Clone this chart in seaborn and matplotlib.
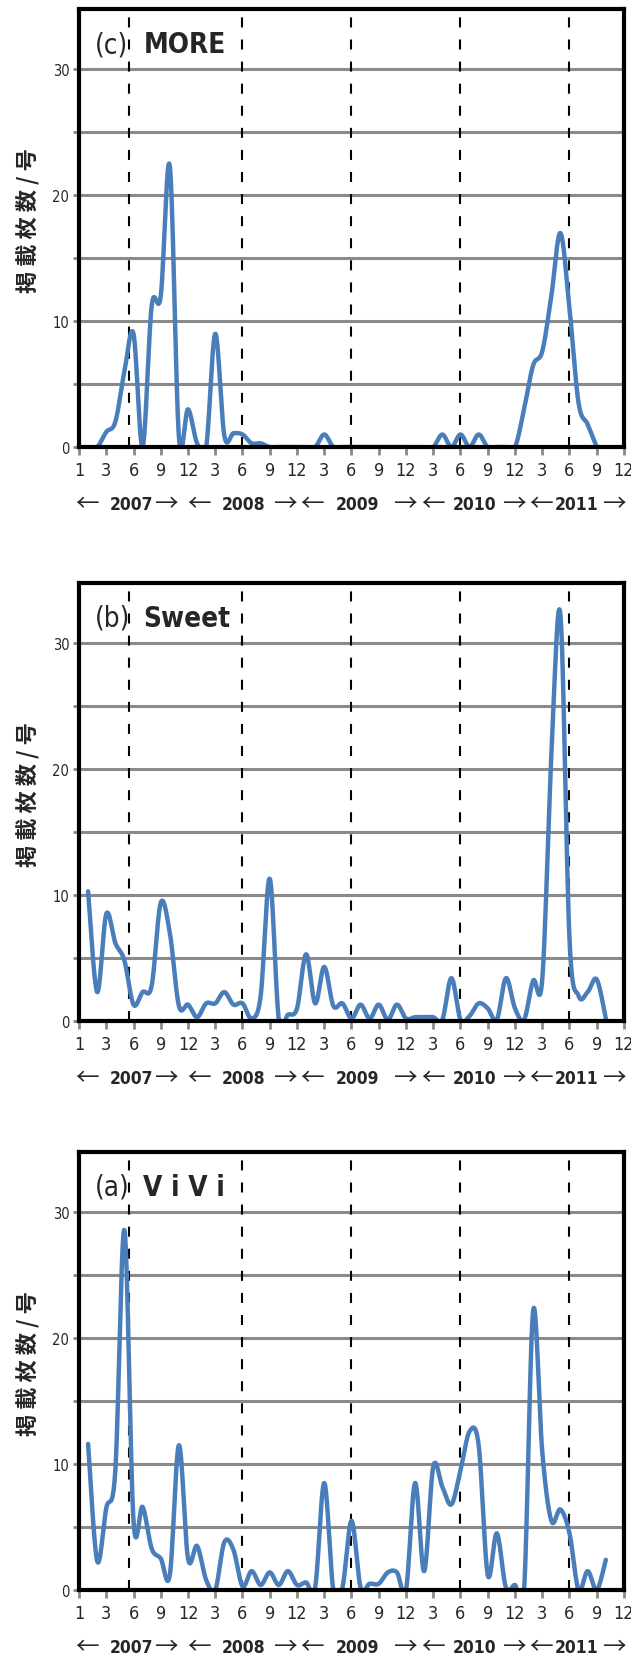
import numpy as np
import pandas as pd
import matplotlib
matplotlib.use("Agg")
import matplotlib.pyplot as plt
import matplotlib.transforms as mtransforms
from matplotlib import font_manager as fm
import seaborn as sns

# ---- data: monthly counts per issue, starting January 2007 ----
more = [0, 0, 1.2, 2.0, 6.0, 9.0, 0, 11.2, 12.0, 22.3,
        0.8, 3.0, 0.3, 0, 9.0, 0.9, 1.1, 1.0, 0.3, 0.3,
        0, 0, 0, 0, 0, 0, 1.0, 0, 0, 0,
        0, 0, 0, 0, 0, 0, 0, 0, 0, 1.0,
        0, 1.0, 0, 1.0, 0, 0, 0, 0, 3.0, 6.5,
        7.6, 12.0, 17.0, 11.0, 3.5, 1.8, 0]

sweet = [10.3, 2.3, 8.5, 6.2, 4.8, 1.3, 2.3, 2.8, 9.4, 7.0,
         1.2, 1.3, 0.3, 1.4, 1.4, 2.3, 1.3, 1.4, 0.2, 2.0,
         11.3, 0.1, 0.5, 1.0, 5.3, 1.4, 4.3, 1.2, 1.4, 0.2,
         1.3, 0.2, 1.3, 0.1, 1.3, 0.2, 0.3, 0.3, 0.3, 0.1,
         3.4, 0.1, 0.4, 1.4, 1.0, 0.1, 3.4, 1.0, 0.1, 3.2,
         3.3, 21.0, 32.3, 6.5, 2.0, 2.3, 3.3, 0.2]

vivi = [11.6, 2.3, 6.5, 9.5, 28.6, 5.5, 6.6, 3.3, 2.5, 1.2,
        11.5, 2.5, 3.5, 0.8, 0.0, 3.8, 3.2, 0.3, 1.5, 0.4,
        1.4, 0.4, 1.5, 0.4, 0.6, 0.2, 8.5, 0.0, 0.2, 5.5,
        0.2, 0.5, 0.5, 1.4, 1.4, 0.0, 8.5, 1.5, 9.8, 8.2,
        6.8, 9.5, 12.6, 11.5, 1.2, 4.5, 0.2, 0.4, 0.0, 22.2,
        11.0, 5.5, 6.4, 4.5, 0.0, 1.5, 0.0, 2.4]

panel_tags = ["(c)", "(b)", "(a)"]
panel_names = ["MORE", "Sweet", "V i V i"]
years = ["2007", "2008", "2009", "2010", "2011"]
month_tick_labels = ["1"] + [str(m) for m in [3, 6, 9, 12] * 5]
y_tick_labels = ["0", "", "10", "", "20", "", "30"]
ylabel_text = "掲 載 枚 数 / 号"

sns.set_theme(style="white")
CJK = "Noto Sans CJK JP"
plt.rcParams["font.family"] = ["Liberation Sans", "DejaVu Sans"]


# ---- narrow font lookup (falls back to Liberation Sans) ----
def narrow_font(bold=False):
    condensed = ("condensed", "semi-condensed", "extra-condensed", "ultra-condensed")
    cands = [f for f in fm.fontManager.ttflist
             if (f.stretch in condensed or "Narrow" in f.name or "Condensed" in f.name)
             and f.style == "normal"]
    def weight_ok(f):
        w = f.weight if isinstance(f.weight, int) else fm.weight_dict.get(f.weight, 400)
        return (w >= 600) if bold else (w < 600)
    cands = [f for f in cands if weight_ok(f)]
    pref = ["Liberation Sans Narrow", "DejaVu Sans", "Roboto", "Open Sans", "Noto Sans"]
    cands.sort(key=lambda f: next((i for i, p in enumerate(pref) if f.name.startswith(p)), 99))
    if cands:
        return fm.FontProperties(fname=cands[0].fname)
    return fm.FontProperties(family="Liberation Sans",
                             weight="bold" if bold else "normal")


NARROW = narrow_font(False)
NARROW_BOLD = narrow_font(True)

LINE_BLUE = "#4a7ebb"
GRID_GREY = "#8a8a8a"


def excel_smooth(y, n=24):
    """Bezier smoothing through the monthly points (x = 1, 2, ...)."""
    y = np.asarray(y, float)
    x = np.arange(1, len(y) + 1, dtype=float)
    px = np.concatenate([[x[0]], x, [x[-1]]])
    py = np.concatenate([[y[0]], y, [y[-1]]])
    t = np.linspace(0, 1, n, endpoint=False)
    xs, ys = [], []
    for i in range(1, len(px) - 2):
        p0 = np.array([px[i - 1], py[i - 1]])
        p1 = np.array([px[i], py[i]])
        p2 = np.array([px[i + 1], py[i + 1]])
        p3 = np.array([px[i + 2], py[i + 2]])
        c1 = p1 + (p2 - p0) / 6.0
        c2 = p2 - (p3 - p1) / 6.0
        b = ((1 - t) ** 3)[:, None] * p1 + (3 * (1 - t) ** 2 * t)[:, None] * c1 \
            + (3 * (1 - t) * t ** 2)[:, None] * c2 + (t ** 3)[:, None] * p2
        xs.extend(b[:, 0])
        ys.extend(b[:, 1])
    xs.append(x[-1])
    ys.append(y[-1])
    return pd.DataFrame({"month": xs, "count": ys})


def fp(base, size):
    p = base.copy()
    p.set_size(size)
    return p


fig = plt.figure(figsize=(6.31, 16.65), dpi=100)
bottoms = [0.7309, 0.3862, 0.04444]
series = [more, sweet, vivi]

year_centers = [5.8, 18.1, 30.7, 43.6, 54.8]
left_arrows = [0.9, 13.2, 25.6, 39.0, 50.9]
right_arrows = [9.6, 22.7, 35.9, 47.9, 58.9]
year_marks = [5.5, 18, 30, 42, 54]

for tag, name, values, b in zip(panel_tags, panel_names, series, bottoms):
    ax = fig.add_axes([0.1252, b, 0.8637, 0.2631])
    ax.set_xlim(0, 60)
    ax.set_ylim(0, 34.8)

    # horizontal grid
    ax.set_yticks(range(0, 35, 5))
    ax.set_yticklabels(y_tick_labels)
    ax.grid(axis="y", color=GRID_GREY, linewidth=2.2, zorder=0)
    ax.grid(axis="x", visible=False)
    ax.set_axisbelow(True)

    # mid-year dashed markers
    for xm in year_marks:
        ax.axvline(xm, color="black", linewidth=1.5, dashes=(4.8, 5.8), zorder=1)

    df = excel_smooth(values)
    sns.lineplot(data=df, x="month", y="count", sort=False, estimator=None,
                 color=LINE_BLUE, linewidth=3.2, ax=ax, zorder=3)

    ax.set_xticks(range(0, 61, 3))
    ax.set_xticklabels(month_tick_labels)
    ax.tick_params(axis="x", which="major", direction="out", length=6, width=2,
                   color=GRID_GREY, pad=4, bottom=True)
    ax.tick_params(axis="y", which="major", direction="out", length=4, width=2,
                   color=GRID_GREY, pad=3, left=True)
    for lab in ax.get_xticklabels():
        lab.set_fontproperties(fp(NARROW, 13))
    for lab in ax.get_yticklabels():
        lab.set_fontproperties(fp(NARROW, 10.5))

    for sp in ax.spines.values():
        sp.set_visible(True)
        sp.set_color("black")
        sp.set_linewidth(3)
        sp.set_zorder(4)

    ax.set_xlabel("")
    ax.set_ylabel(ylabel_text, family=[CJK, "DejaVu Sans"], fontsize=16,
                  fontweight="bold", labelpad=0)
    ax.yaxis.label.set_va("center")
    ax.yaxis.set_label_coords(-0.094, 0.52)

    # panel title
    ax.text(0.029, 0.92, tag, transform=ax.transAxes, ha="left", va="center",
            fontproperties=fp(NARROW, 20))
    ax.text(0.118, 0.92, name, transform=ax.transAxes, ha="left", va="center",
            fontproperties=fp(NARROW_BOLD, 20))

    # year captions with arrows below the month ticks
    trans = mtransforms.blended_transform_factory(ax.transData, ax.transAxes)
    for yr, xc, xl, xr in zip(years, year_centers, left_arrows, right_arrows):
        ax.text(xc, -0.13, yr, transform=trans, ha="center", va="center",
                fontproperties=fp(NARROW_BOLD, 12.5), clip_on=False)
        ax.text(xl, -0.13, "←", transform=trans, ha="center", va="center",
                fontsize=17, family=[CJK, "DejaVu Sans"], clip_on=False)
        ax.text(xr, -0.13, "→", transform=trans, ha="center", va="center",
                fontsize=17, family=[CJK, "DejaVu Sans"], clip_on=False)

fig.savefig("out.png", dpi=100, facecolor="white")
